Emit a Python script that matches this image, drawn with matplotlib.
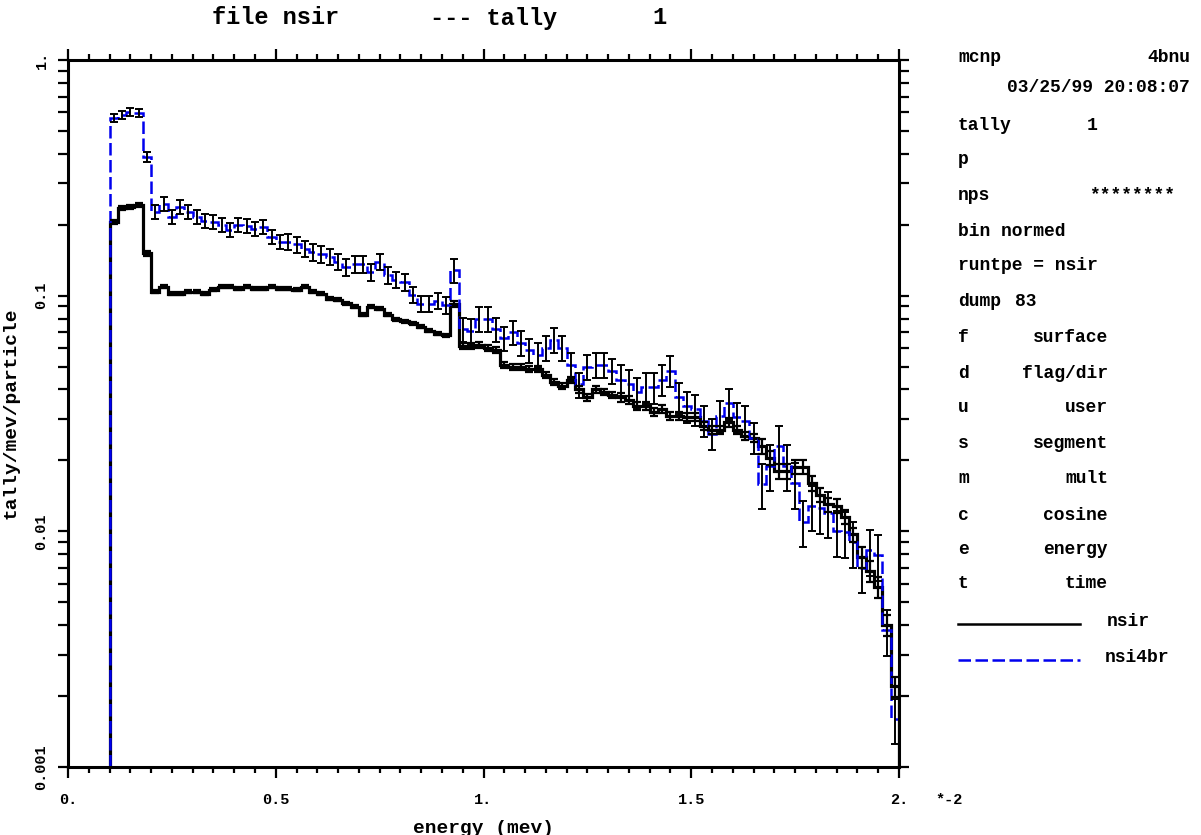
import matplotlib
matplotlib.use("Agg")
import matplotlib.pyplot as plt
import numpy as np
from matplotlib.lines import Line2D
from matplotlib.ticker import MultipleLocator, LogLocator, NullFormatter, FixedLocator, FixedFormatter

# energy bins (mev), 0.02 wide from 0.1 to 2.0
edges = np.round(np.arange(0.10, 2.0001, 0.02), 2)

# tally per bin
nsir = [0.206, 0.235, 0.238, 0.242, 0.151,
        0.104, 0.109, 0.102, 0.102, 0.104, 0.104, 0.102, 0.106, 0.109, 0.109,
        0.107, 0.109, 0.107, 0.107, 0.109, 0.107, 0.107, 0.106, 0.109, 0.104,
        0.102, 0.097, 0.096, 0.093, 0.0896, 0.083, 0.0896, 0.088, 0.083, 0.0793,
        0.078, 0.0765, 0.0737, 0.071, 0.069, 0.068, 0.092, 0.061, 0.061, 0.062,
        0.060, 0.059, 0.051, 0.050, 0.0499, 0.049, 0.049, 0.046, 0.043, 0.0415,
        0.044, 0.040, 0.037, 0.040, 0.039, 0.038, 0.037, 0.036, 0.034, 0.034,
        0.032, 0.033, 0.031, 0.031, 0.0306, 0.0306, 0.028, 0.027, 0.027, 0.029,
        0.027, 0.0255, 0.025, 0.023, 0.0205, 0.018, 0.018, 0.0188, 0.0188, 0.016,
        0.0143, 0.013, 0.0128, 0.0115, 0.0097, 0.0078, 0.0068, 0.0058, 0.0040, 0.0022]

nsi4br = [0.566, 0.584, 0.603, 0.597, 0.389,
          0.227, 0.246, 0.216, 0.238, 0.227, 0.216, 0.208, 0.206, 0.200, 0.190,
          0.200, 0.198, 0.192, 0.196, 0.178, 0.169, 0.169, 0.165, 0.158, 0.153,
          0.150, 0.146, 0.139, 0.132, 0.136, 0.136, 0.126, 0.139, 0.122, 0.117,
          0.114, 0.101, 0.0925, 0.0925, 0.095, 0.091, 0.128, 0.072, 0.071, 0.080,
          0.080, 0.072, 0.066, 0.070, 0.063, 0.0587, 0.056, 0.060, 0.065, 0.060,
          0.051, 0.042, 0.050, 0.051, 0.051, 0.048, 0.044, 0.042, 0.039, 0.041,
          0.041, 0.044, 0.048, 0.037, 0.034, 0.033, 0.0295, 0.026, 0.031, 0.035,
          0.0306, 0.0295, 0.025, 0.0159, 0.019, 0.023, 0.019, 0.016, 0.011, 0.0128,
          0.0125, 0.012, 0.010, 0.0099, 0.0090, 0.0070, 0.0083, 0.0079, 0.0038, 0.0016]

# relative errors
nsir_rel = [0.02] * 5 + [0.015] * 36 + [0.03] * 20 + [0.04] * 17 + [0.07] * 12 + [0.10] * 5
nsi4br_rel = [0.04] * 4 + [0.05] + [0.07] * 16 + [0.08] * 20 + [0.12] * 20 + [0.15] * 17 + [0.22] * 17

x_ticks = [0.0, 0.5, 1.0, 1.5, 2.0]
x_labels = ["0.", "0.5", "1.", "1.5", "2."]
y_ticks = [0.001, 0.01, 0.1, 1.0]
y_labels = ["0.001", "0.01", "0.1", "1."]

panel = [
    ("mcnp", "4bnu", 1190, 57),
    ("", "03/25/99 20:08:07", 1190, 88),
    ("tally", "1", 1098, 125),
    ("p", "", 0, 160),
    ("nps", "********", 1175, 195),
    ("bin normed", "", 0, 231),
    ("runtpe = nsir", "", 0, 266),
    ("dump", "83", 1036, 302),
    ("f", "surface", 1108, 337),
    ("d", "flag/dir", 1108, 373),
    ("u", "user", 1108, 408),
    ("s", "segment", 1108, 444),
    ("m", "mult", 1108, 479),
    ("c", "cosine", 1108, 515),
    ("e", "energy", 1108, 550),
    ("t", "time", 1108, 584),
]

W, H = 1201, 835
MONO = ["Liberation Mono", "DejaVu Sans Mono"]
BLUE = "#0000ee"
DASH = (0, (5, 1.8))


def fx(x):
    return x / W


def fy(y):
    return 1 - y / H


fig = plt.figure(figsize=(12.01, 8.35), dpi=100)
ax = fig.add_axes([fx(68), fy(767), (899 - 68) / W, (767 - 60) / H])

nsir = np.array(nsir)
nsi4br = np.array(nsi4br)
centers = (edges[:-1] + edges[1:]) / 2

ax.stairs(nsir, edges, baseline=1e-3, color="black", lw=2.3)
ax.stairs(nsi4br, edges, baseline=1e-3, color=BLUE, lw=1.8, linestyle=DASH)
ax.errorbar(centers, nsir, yerr=nsir * np.array(nsir_rel), fmt="none",
            ecolor="black", elinewidth=1.6, capsize=3, capthick=1.6)
ax.errorbar(centers, nsi4br, yerr=nsi4br * np.array(nsi4br_rel), fmt="none",
            ecolor="black", elinewidth=1.4, capsize=3, capthick=1.4)

ax.set_yscale("log")
ax.set_xlim(0, 2.0)
ax.set_ylim(1e-3, 1.0)

ax.xaxis.set_major_locator(FixedLocator(x_ticks))
ax.xaxis.set_major_formatter(FixedFormatter(x_labels))
ax.xaxis.set_minor_locator(MultipleLocator(0.05))
ax.yaxis.set_major_locator(FixedLocator(y_ticks))
ax.yaxis.set_major_formatter(FixedFormatter(y_labels))
ax.yaxis.set_minor_locator(LogLocator(base=10, subs=np.arange(2, 10)))
ax.yaxis.set_minor_formatter(NullFormatter())

ax.tick_params(axis="both", which="both", direction="out", top=True, right=True,
               width=1.6, colors="black")
ax.tick_params(axis="x", which="major", length=8, pad=11, labelsize=11)
ax.tick_params(axis="x", which="minor", length=4.5)
ax.tick_params(axis="y", which="both", length=7, pad=7, labelsize=11)
for lab in ax.get_xticklabels():
    lab.set_family(MONO)
    lab.set_fontweight("bold")
for lab in ax.get_yticklabels():
    lab.set_family(MONO)
    lab.set_fontweight("bold")
    lab.set_rotation(90)
    lab.set_va("center")
for s in ax.spines.values():
    s.set_linewidth(2.2)

ax.set_xlabel("energy (mev)", family=MONO, fontsize=14, fontweight="bold")
ax.set_ylabel("tally/mev/particle", family=MONO, fontsize=14, fontweight="bold")
ax.xaxis.set_label_coords(0.5, -0.075)
ax.yaxis.set_label_coords(-0.058, 0.5)

fig.text(fx(935), fy(800), "*-2", family=MONO, fontsize=11, fontweight="bold", va="center")

# title pieces
tkw = dict(family=MONO, fontsize=17, fontweight="bold", va="center")
fig.text(fx(212), fy(18), "file nsir", **tkw)
fig.text(fx(430), fy(18), "--- tally", **tkw)
fig.text(fx(652), fy(18), "1", **tkw)

# info panel
pkw = dict(family=MONO, fontsize=13, fontweight="bold", va="center")
for left, right, rx, y in panel:
    if left:
        fig.text(fx(958), fy(y), left, ha="left", **pkw)
    if right:
        fig.text(fx(rx), fy(y), right, ha="right", **pkw)

fig.add_artist(Line2D([fx(958), fx(1080)], [fy(624), fy(624)], color="black", lw=1.8))
fig.add_artist(Line2D([fx(958), fx(1080)], [fy(660), fy(660)], color=BLUE, lw=1.8,
                      linestyle=DASH))
fig.text(fx(1107), fy(621), "nsir", ha="left", **pkw)
fig.text(fx(1105), fy(658), "nsi4br", ha="left", **pkw)

fig.savefig("out.png", dpi=100)
